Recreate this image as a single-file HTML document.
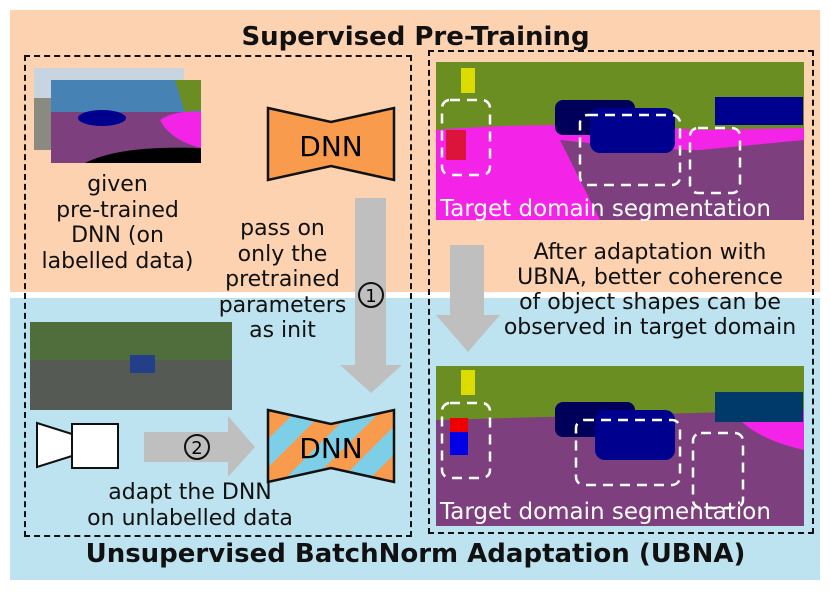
<!DOCTYPE html><html><head><style>
body{margin:0;width:831px;height:594px;background:#fff;position:relative;overflow:hidden;font-family:"DejaVu Sans","Liberation Sans",sans-serif;color:#111}
.a{position:absolute}
.t{position:absolute;text-align:center;font-size:22px;line-height:25.5px;white-space:nowrap}
</style></head><body>
<div class="a" style="left:10px;top:10px;width:810px;height:282px;background:#fcd2b1"></div>
<div class="a" style="left:10px;top:298px;width:810px;height:282px;background:#bde3f0"></div>
<div class="t" style="left:0;width:831px;top:25px;font-size:26px;font-weight:bold">Supervised Pre-Training</div>
<div class="t" style="left:0;width:831px;top:542px;font-size:26px;font-weight:bold">Unsupervised BatchNorm Adaptation (UBNA)</div>
<div class="a" style="left:24px;top:55px;width:384px;height:478px;border:2.5px dashed #111"></div>
<div class="a" style="left:428px;top:50px;width:382px;height:480px;border:2.5px dashed #111"></div>
<svg class="a" style="left:0;top:0" width="831" height="594">
<rect x="34" y="68" width="150" height="82" fill="#8a8a80"/>
<rect x="34" y="68" width="150" height="30" fill="#c8d4e0"/>
<rect x="51" y="80" width="150" height="83" fill="#4682b4"/>
<rect x="51" y="112" width="150" height="51" fill="#7e3f7e"/>
<ellipse cx="102" cy="118" rx="24" ry="8" fill="#00008e"/>
<path d="M175 80 H201 V110 L185 112 Z" fill="#6b8e23"/>
<path d="M160 120 Q175 110 201 112 V148 Q170 140 160 120Z" fill="#f423e8"/>
<path d="M85 163 Q120 145 201 148 V163Z" fill="#000"/>
<polygon points="268,108 331,122 394,108 394,180 331,166 268,180" fill="#f89b4d" stroke="#111" stroke-width="2.5"/>
<text x="331" y="156" font-size="28" text-anchor="middle" font-family="DejaVu Sans,sans-serif">DNN</text>
<polygon points="355,198 386,198 386,365 402,365 371,393 340,365 355,365" fill="#bfbfbf"/>
<circle cx="371" cy="295" r="12" fill="none" stroke="#111" stroke-width="2"/>
<text x="371" y="302" font-size="18" text-anchor="middle">1</text>
<rect x="30" y="322" width="202" height="88" fill="#555a55"/>
<rect x="30" y="322" width="202" height="38" fill="#4f6e3c"/>
<rect x="130" y="355" width="25" height="18" fill="#233f8a"/>
<polygon points="37,423 72,434 72,456 37,467" fill="#fff" stroke="#111" stroke-width="2"/>
<rect x="72" y="424" width="46" height="44" fill="#fff" stroke="#111" stroke-width="2"/>
<polygon points="144,432 228,432 228,416 255,447 228,477 228,462 144,462" fill="#bfbfbf"/>
<circle cx="197" cy="447" r="12" fill="none" stroke="#111" stroke-width="2"/>
<text x="197" y="454" font-size="18" text-anchor="middle">2</text>
<defs><clipPath id="c"><polygon points="268,410 331,424 394,410 394,482 331,468 268,482"/></clipPath>
<pattern id="p" width="40" height="40" patternUnits="userSpaceOnUse" patternTransform="rotate(45)"><rect width="40" height="40" fill="#7ccfe6"/><rect width="20" height="40" fill="#f89b4d"/></pattern></defs>
<rect x="268" y="405" width="126" height="80" fill="url(#p)" clip-path="url(#c)"/>
<polygon points="268,410 331,424 394,410 394,482 331,468 268,482" fill="none" stroke="#111" stroke-width="2.5"/>
<text x="331" y="458" font-size="28" text-anchor="middle">DNN</text>
<g>
<rect x="436" y="62" width="368" height="158" fill="#6b8e23"/>
<path d="M436 130 Q560 120 700 130 L804 128 V220 H436Z" fill="#f423e8"/>
<path d="M560 140 Q650 150 700 150 L804 140 V220 H600Z" fill="#7e3f7e"/>
<rect x="555" y="100" width="80" height="35" rx="8" fill="#00005a"/>
<rect x="590" y="108" width="85" height="45" rx="10" fill="#00008e"/>
<rect x="715" y="97" width="88" height="28" fill="#00008e"/>
<rect x="446" y="130" width="20" height="30" fill="#dc143c"/>
<rect x="461" y="68" width="14" height="25" fill="#dcdc00"/>
<rect x="442" y="100" width="48" height="75" rx="8" fill="none" stroke="#fff" stroke-width="2.5" stroke-dasharray="10,7"/>
<rect x="580" y="115" width="100" height="70" rx="8" fill="none" stroke="#fff" stroke-width="2.5" stroke-dasharray="10,7"/>
<rect x="690" y="128" width="50" height="65" rx="8" fill="none" stroke="#fff" stroke-width="2.5" stroke-dasharray="10,7"/>
<text x="440" y="216" font-size="23" fill="#fff">Target domain segmentation</text>
</g>
<g>
<rect x="436" y="366" width="368" height="160" fill="#6b8e23"/>
<path d="M436 420 L804 410 V526 H436Z" fill="#7e3f7e"/>
<path d="M740 420 L804 410 V450 Q760 440 740 420Z" fill="#f423e8"/>
<rect x="555" y="402" width="80" height="35" rx="8" fill="#00005a"/>
<rect x="595" y="410" width="80" height="50" rx="10" fill="#00008e"/>
<rect x="715" y="392" width="88" height="30" fill="#003a6a"/>
<rect x="450" y="430" width="18" height="25" fill="#0000e6"/>
<rect x="450" y="418" width="18" height="14" fill="#ee0000"/>
<rect x="461" y="370" width="14" height="25" fill="#dcdc00"/>
<rect x="442" y="403" width="48" height="75" rx="8" fill="none" stroke="#fff" stroke-width="2.5" stroke-dasharray="10,7"/>
<rect x="576" y="420" width="104" height="65" rx="8" fill="none" stroke="#fff" stroke-width="2.5" stroke-dasharray="10,7"/>
<rect x="693" y="433" width="50" height="75" rx="8" fill="none" stroke="#fff" stroke-width="2.5" stroke-dasharray="10,7"/>
<text x="440" y="519" font-size="23" fill="#fff">Target domain segmentation</text>
</g>
<polygon points="450,245 484,245 484,315 500,315 468,352 436,315 450,315" fill="#bfbfbf"/>
</svg>
<div class="t" style="left:30px;width:175px;top:172px">given<br>pre-trained<br>DNN (on<br>labelled data)</div>
<div class="t" style="left:215px;width:135px;top:216px">pass on<br>only the<br>pretrained<br>parameters<br>as init</div>
<div class="t" style="left:30px;width:320px;top:480px">adapt the DNN<br>on unlabelled data</div>
<div class="t" style="left:470px;width:360px;top:240px;line-height:25px">After adaptation with<br>UBNA, better coherence<br>of object shapes can be<br>observed in target domain</div>
</body></html>
